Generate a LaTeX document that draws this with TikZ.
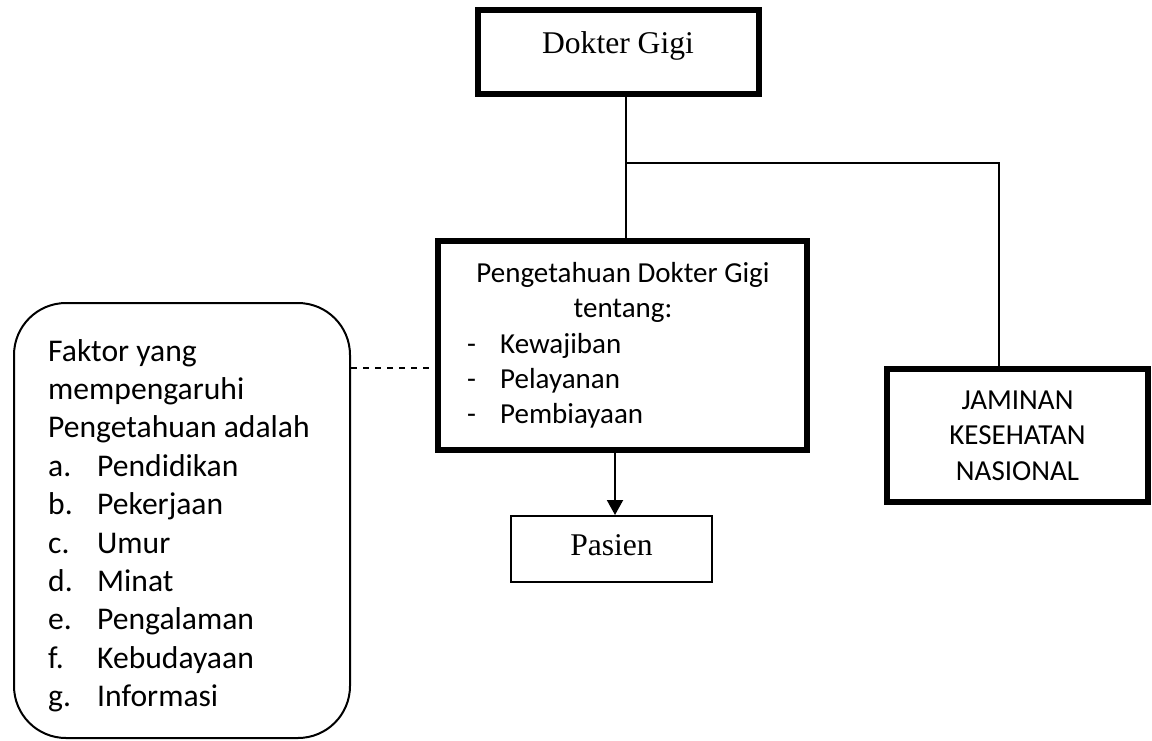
\documentclass[tikz,border=0pt]{standalone}
\usepackage{fontspec}
\setmainfont{Liberation Serif}
\newfontfamily\calibri{Carlito}
\usetikzlibrary{positioning}
\usetikzlibrary{arrows.meta}
\newcommand{\besar}{\fontsize{31.6}{38.4}\selectfont}
\newcommand{\sedang}{\fontsize{29}{35.3}\selectfont}

\begin{document}
\begin{tikzpicture}[x=1pt, y=-1pt, >={Triangle[width=16pt,length=15pt]},
kotak/.style={draw, line width=6pt, inner sep=0pt},
kotaktipis/.style={draw, line width=2pt, inner sep=0pt},
teks/.style={inner sep=0pt, anchor=base west, font=\calibri\besar},
teks2/.style={inner sep=0pt, anchor=base west, font=\calibri\sedang}]
\useasboundingbox (0,0) rectangle (1152,740);

% kotak utama
\node [kotak, minimum width=281, minimum height=84] (dokter) at (618.5,52) {};
\node [inner sep=0pt, anchor=base, font=\besar] at (618,53) {Dokter Gigi};

\node [kotak, minimum width=369, minimum height=209] (pengetahuan) at (622.5,345.5) {};
\node [kotak, minimum width=261, minimum height=133, align=center, font=\calibri\sedang]
  (jkn) at (1017.5,435.5) {JAMINAN\\KESEHATAN\\NASIONAL};
\node [kotaktipis, minimum width=201, minimum height=66] (pasien) at (611.5,549) {};
\node [inner sep=0pt, anchor=base, font=\besar] at (611.5,555) {Pasien};

% kotak faktor
\node [kotaktipis, rounded corners=52pt, minimum width=336, minimum height=435] (faktor) at (182,520.5) {};

% isi kotak pengetahuan
\node [teks2, anchor=base] at (623,282.5) {Pengetahuan Dokter Gigi};
\node [teks2, anchor=base] at (623,317.5) {tentang:};
\foreach \isi [count=\i from 0] in {Kewajiban, Pelayanan, Pembiayaan} {
  \node [teks2] at (467,{353+35.3*\i}) {-};
  \node [teks2] at (500,{353+35.3*\i}) {\isi};
}

% isi kotak faktor
\node [teks] at (48,361) {Faktor yang};
\node [teks] at (48,399.4) {mempengaruhi};
\node [teks] at (48,437.8) {Pengetahuan adalah};
\foreach \huruf/\isi [count=\i from 3] in {a./Pendidikan, b./Pekerjaan, c./Umur,
  d./Minat, e./Pengalaman, f./Kebudayaan, g./Informasi} {
  \node [teks] at (48,{361+38.4*\i}) {\huruf};
  \node [teks] at (97,{361+38.4*\i}) {\isi};
}

% garis penghubung
\coordinate (cabang) at (626,163);
\coordinate (belok) at (999,163);
\coordinate (putus) at (0,368);
\draw [line width=2pt] (cabang |- dokter.south) -- (cabang |- pengetahuan.north);
\draw [line width=2pt] (cabang) -- (belok) -- (belok |- jkn.north);
\draw [line width=2pt, ->] ([xshift=3.5pt]pasien.north |- pengetahuan.south) -- ([xshift=3.5pt]pasien.north);
\draw [line width=2pt, dash pattern=on 6pt off 6pt] (faktor.east |- putus) -- (pengetahuan.west |- putus);
\end{tikzpicture}
\end{document}
